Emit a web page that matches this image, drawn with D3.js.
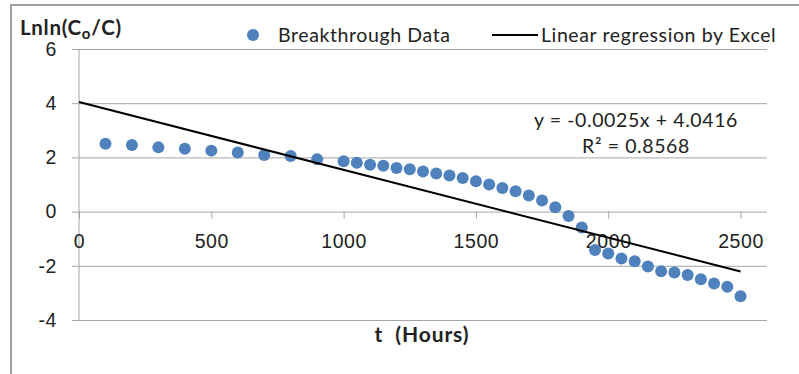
<!DOCTYPE html>
<html>
<head>
<meta charset="utf-8">
<script src="https://cdn.jsdelivr.net/npm/d3@7"></script>
<style>
    body { margin: 0; background: #fff; }
    svg { display: block; font-family: Lato, "Open Sans", sans-serif; }
    .grid line { stroke: #a6a6a6; stroke-width: 1; }
    .grid path { display: none; }
    .tick text { fill: #222; font-size: 19.5px; letter-spacing: 0.6px; }
</style>
</head>
<body>
<svg id="chart" width="799" height="374"></svg>
<script>
// data
var hours = [100, 200, 300, 400, 500, 600, 700, 800, 900, 1000,
             1050, 1100, 1150, 1200, 1250, 1300, 1350, 1400, 1450, 1500,
             1550, 1600, 1650, 1700, 1750, 1800, 1850, 1900, 1950, 2000,
             2050, 2100, 2150, 2200, 2250, 2300, 2350, 2400, 2450, 2500];
var lnln = [2.50, 2.46, 2.37, 2.32, 2.25, 2.18, 2.09, 2.05, 1.93, 1.86,
            1.80, 1.73, 1.69, 1.61, 1.56, 1.48, 1.41, 1.33, 1.24, 1.12,
            1.00, 0.87, 0.75, 0.59, 0.41, 0.16, -0.16, -0.59, -1.42, -1.55,
            -1.73, -1.83, -2.03, -2.20, -2.25, -2.34, -2.50, -2.65, -2.77, -3.12];
var xTicks = [0, 500, 1000, 1500, 2000, 2500];
var yTicks = [-4, -2, 0, 2, 4, 6];
var slope = -0.0025, intercept = 4.0416;
var trendRange = [0, 2500];
var legendLabels = ['Breakthrough Data', 'Linear regression by Excel'];
var eqLabels = ['y = -0.0025x + 4.0416', 'R² = 0.8568'];

drawChart();

function drawChart(){
    var svg = d3.select('#chart');
    var blue = '#4f81bd';
    var labelSize = '19.5px';

    var points = hours.map(function(h, i){
        return {t: h, v: lnln[i]};
    });

    // plot area scales
    var x = d3.scaleLinear().domain([0, 2600]).range([79, 767]);
    var y = d3.scaleLinear().domain([-4, 6]).range([320, 49]);

    // plain hyphen minus like excel, not the unicode minus
    var plain = function(d){ return String(d); };

    // outer frame (top and left only visible)
    svg.append('path')
        .attr('d', 'M11,374V5H799')
        .attr('fill', 'none')
        .attr('stroke', '#a0a0a0')
        .attr('stroke-width', 2);

    // horizontal gridlines + y labels
    svg.append('g')
        .attr('class', 'grid')
        .attr('transform', 'translate(72,0)')
        .call(d3.axisLeft(y)
            .tickValues(yTicks)
            .tickSize(-(767 - 72))
            .tickPadding(15)
            .tickFormat(plain));

    // vertical axis line
    svg.append('line')
        .attr('x1', x(0)).attr('x2', x(0))
        .attr('y1', y(6)).attr('y2', y(-4))
        .attr('stroke', '#a6a6a6');

    // x axis crosses at zero
    svg.append('g')
        .attr('class', 'grid')
        .attr('transform', 'translate(0,' + y(0) + ')')
        .call(d3.axisBottom(x)
            .tickValues(xTicks)
            .tickSize(7)
            .tickPadding(16)
            .tickFormat(plain));

    // data points
    svg.append('g')
        .selectAll('circle')
        .data(points)
        .enter().append('circle')
            .attr('cx', function(d){ return x(d.t); })
            .attr('cy', function(d){ return y(d.v); })
            .attr('r', 6)
            .attr('fill', blue);

    // regression line
    var line = d3.line()
        .x(function(d){ return x(d); })
        .y(function(d){ return y(slope * d + intercept); });
    svg.append('path')
        .datum(trendRange)
        .attr('d', line)
        .attr('fill', 'none')
        .attr('stroke', '#000')
        .attr('stroke-width', 2);

    // equation label
    svg.selectAll('.eq')
        .data(eqLabels)
        .enter().append('text')
            .attr('class', 'eq')
            .attr('x', 636)
            .attr('y', function(d, i){ return 127 + i * 26; })
            .attr('text-anchor', 'middle')
            .style('font-size', labelSize)
            .style('letter-spacing', '0.6px')
            .attr('fill', '#222')
            .text(function(d){ return d; });

    // legend
    var legend = svg.append('g')
        .style('font-size', labelSize)
        .style('letter-spacing', '0.6px')
        .attr('fill', '#222');
    legend.append('circle')
        .attr('cx', 253).attr('cy', 35).attr('r', 6).attr('fill', blue);
    legend.append('text')
        .attr('x', 278).attr('y', 42)
        .text(legendLabels[0]);
    legend.append('line')
        .attr('x1', 492).attr('x2', 538)
        .attr('y1', 35).attr('y2', 35)
        .attr('stroke', '#000').attr('stroke-width', 2);
    legend.append('text')
        .attr('x', 541).attr('y', 42)
        .text(legendLabels[1]);

    // y axis title with subscript o
    var yTitle = svg.append('text')
        .attr('x', 20).attr('y', 35)
        .style('font-size', '20.5px')
        .style('font-weight', 'bold')
        .style('letter-spacing', '0.7px')
        .attr('fill', '#222');
    yTitle.append('tspan').text('Lnln(C');
    yTitle.append('tspan').attr('dy', 4).style('font-size', '15px').text('o');
    yTitle.append('tspan').attr('dy', -4).text('/C)');

    // x axis title
    svg.append('text')
        .attr('x', 422).attr('y', 342)
        .attr('text-anchor', 'middle')
        .style('font-size', '21px')
        .style('font-weight', 'bold')
        .style('letter-spacing', '0.9px')
        .attr('fill', '#222')
        .attr('xml:space', 'preserve')
        .text('t  (Hours)');
}
</script>
</body>
</html>
